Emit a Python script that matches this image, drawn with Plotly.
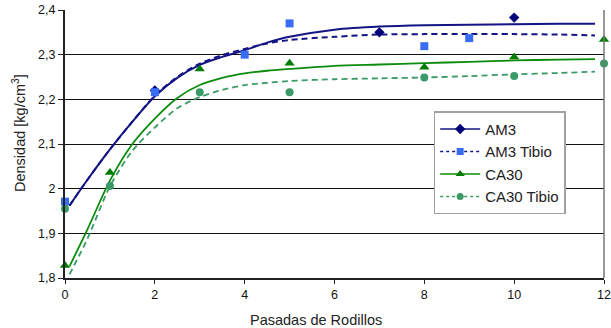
import plotly.graph_objects as go

# ---- data ----
am3_x = [2, 7, 10]
am3_y = [2.220, 2.350, 2.383]

am3t_x = [0, 2, 4, 5, 8, 9]
am3t_y = [1.971, 2.216, 2.300, 2.370, 2.319, 2.337]

ca30_x = [0, 1, 3, 5, 8, 10, 12]
ca30_y = [1.828, 2.036, 2.268, 2.281, 2.272, 2.295, 2.334]

ca30t_x = [0, 1, 3, 5, 8, 10, 12]
ca30t_y = [1.955, 2.006, 2.216, 2.216, 2.249, 2.252, 2.280]

# trend curves
trend_x = [0.1, 0.5, 1, 1.5, 2, 2.5, 3, 3.5, 4, 4.5, 5, 6, 7, 8, 9, 10, 11, 11.8]
am3_trend = [1.962, 2.020, 2.088, 2.150, 2.207, 2.248, 2.277, 2.295, 2.310, 2.327, 2.340,
             2.356, 2.363, 2.366, 2.367, 2.368, 2.369, 2.369]
am3t_trend = [1.962, 2.020, 2.088, 2.150, 2.208, 2.250, 2.280, 2.299, 2.313, 2.325, 2.333,
              2.340, 2.345, 2.346, 2.346, 2.346, 2.345, 2.343]
ca30_trend = [1.826, 1.909, 2.018, 2.100, 2.157, 2.203, 2.232, 2.248, 2.258, 2.264, 2.268,
              2.275, 2.278, 2.281, 2.284, 2.287, 2.289, 2.290]
ca30t_trend = [1.808, 1.888, 2.005, 2.085, 2.137, 2.180, 2.205, 2.221, 2.232, 2.237, 2.241,
               2.245, 2.247, 2.249, 2.252, 2.256, 2.259, 2.262]

names = ["AM3", "AM3 Tibio", "CA30", "CA30 Tibio"]
y_ticks = [1.8, 1.9, 2.0, 2.1, 2.2, 2.3, 2.4]
y_ticktext = ["1,8", "1,9", "2", "2,1", "2,2", "2,3", "2,4"]
x_ticks = [0, 2, 4, 6, 8, 10, 12]
x_title = "Pasadas de Rodillos"
y_title = "Densidad [kg/cm<sup>3</sup>]"

navy = "#141485"
navy_mk = "#00007a"
blue_mk = "#3a6df5"
green = "#0c8c0c"
green_mk = "#007d00"
sea = "#3a9a68"

fig = go.Figure()

# trend curves
fig.add_trace(go.Scatter(x=trend_x, y=am3_trend, mode="lines", line=dict(color=navy, width=2, shape="spline", smoothing=0.8), showlegend=False, hoverinfo="skip"))
fig.add_trace(go.Scatter(x=trend_x, y=am3t_trend, mode="lines", line=dict(color=navy, width=2, dash="6px,4px", shape="spline", smoothing=0.8), showlegend=False, hoverinfo="skip"))
fig.add_trace(go.Scatter(x=trend_x, y=ca30_trend, mode="lines", line=dict(color=green, width=1.8, shape="spline", smoothing=0.8), showlegend=False, hoverinfo="skip"))
fig.add_trace(go.Scatter(x=trend_x, y=ca30t_trend, mode="lines", line=dict(color=sea, width=1.8, dash="6px,4px", shape="spline", smoothing=0.8), showlegend=False, hoverinfo="skip"))

# markers
fig.add_trace(go.Scatter(x=am3_x, y=am3_y, mode="markers", marker=dict(symbol="diamond", size=8, color=navy_mk), showlegend=False, cliponaxis=False))
fig.add_trace(go.Scatter(x=am3t_x, y=am3t_y, mode="markers", marker=dict(symbol="square", size=8, color=blue_mk), showlegend=False, cliponaxis=False))
fig.add_trace(go.Scatter(x=ca30_x, y=ca30_y, mode="markers", marker=dict(symbol="triangle-up", size=9, color=green_mk), showlegend=False, cliponaxis=False))
fig.add_trace(go.Scatter(x=ca30t_x, y=ca30t_y, mode="markers", marker=dict(symbol="circle", size=8, color=sea), showlegend=False, cliponaxis=False))

# legend entries
leg_styles = [
    (navy, "solid", "diamond", navy_mk, 8),
    (navy, "dot", "square", blue_mk, 7),
    (green, "solid", "triangle-up", green_mk, 8),
    (sea, "dot", "circle", sea, 7),
]
for nm, (lc, ld, ms, mc, sz) in zip(names, leg_styles):
    fig.add_trace(go.Scatter(x=[None], y=[None], name=nm, mode="lines+markers",
                             line=dict(color=lc, width=1.5, dash=ld),
                             marker=dict(symbol=ms, color=mc, size=sz)))

font_family = "Liberation Sans, Arial, sans-serif"
fig.update_layout(
    width=611, height=328,
    margin=dict(l=65, r=7, t=10, b=50),
    paper_bgcolor="white", plot_bgcolor="white",
    font=dict(family=font_family, size=12, color="#111"),
    showlegend=True,
    legend=dict(x=0.684, y=0.622, xanchor="left", yanchor="top",
                bgcolor="white", bordercolor="#a0a0a0", borderwidth=1.5,
                font=dict(size=15, color="#222"), tracegroupgap=0,
                itemwidth=40),
    xaxis=dict(range=[0, 12], tickvals=x_ticks, ticks="outside", ticklen=4,
               tickcolor="#222", showline=True, linecolor="#222", linewidth=2,
               showgrid=False, zeroline=False, automargin=False,
               tickfont=dict(size=12.5)),
    yaxis=dict(range=[1.8, 2.4], tickvals=y_ticks, ticktext=y_ticktext,
               ticks="outside", ticklen=5, tickcolor="#222",
               showline=True, linecolor="#222", linewidth=2,
               showgrid=True, gridcolor="#111", gridwidth=1, zeroline=False,
               automargin=False, tickfont=dict(size=12.5)),
)

# axis titles
fig.add_annotation(text=x_title, xref="paper", yref="paper", x=(316 - 65) / 539, y=-(320 - 278) / 268,
                   xanchor="center", yanchor="middle", showarrow=False,
                   font=dict(size=14.5, color="#222"))
fig.add_annotation(text=y_title, xref="paper", yref="paper", x=-(65 - 19) / 539, y=(278 - 133) / 268,
                   xanchor="center", yanchor="middle", showarrow=False, textangle=-90,
                   font=dict(size=14.5, color="#222"))

# right border of plot area
fig.add_shape(type="line", xref="paper", yref="paper", x0=1, x1=1, y0=0, y1=1,
              line=dict(color="#777", width=1.5))

fig.write_html("out.html", config={"displayModeBar": False},
               post_script="document.body.style.margin='0';")
